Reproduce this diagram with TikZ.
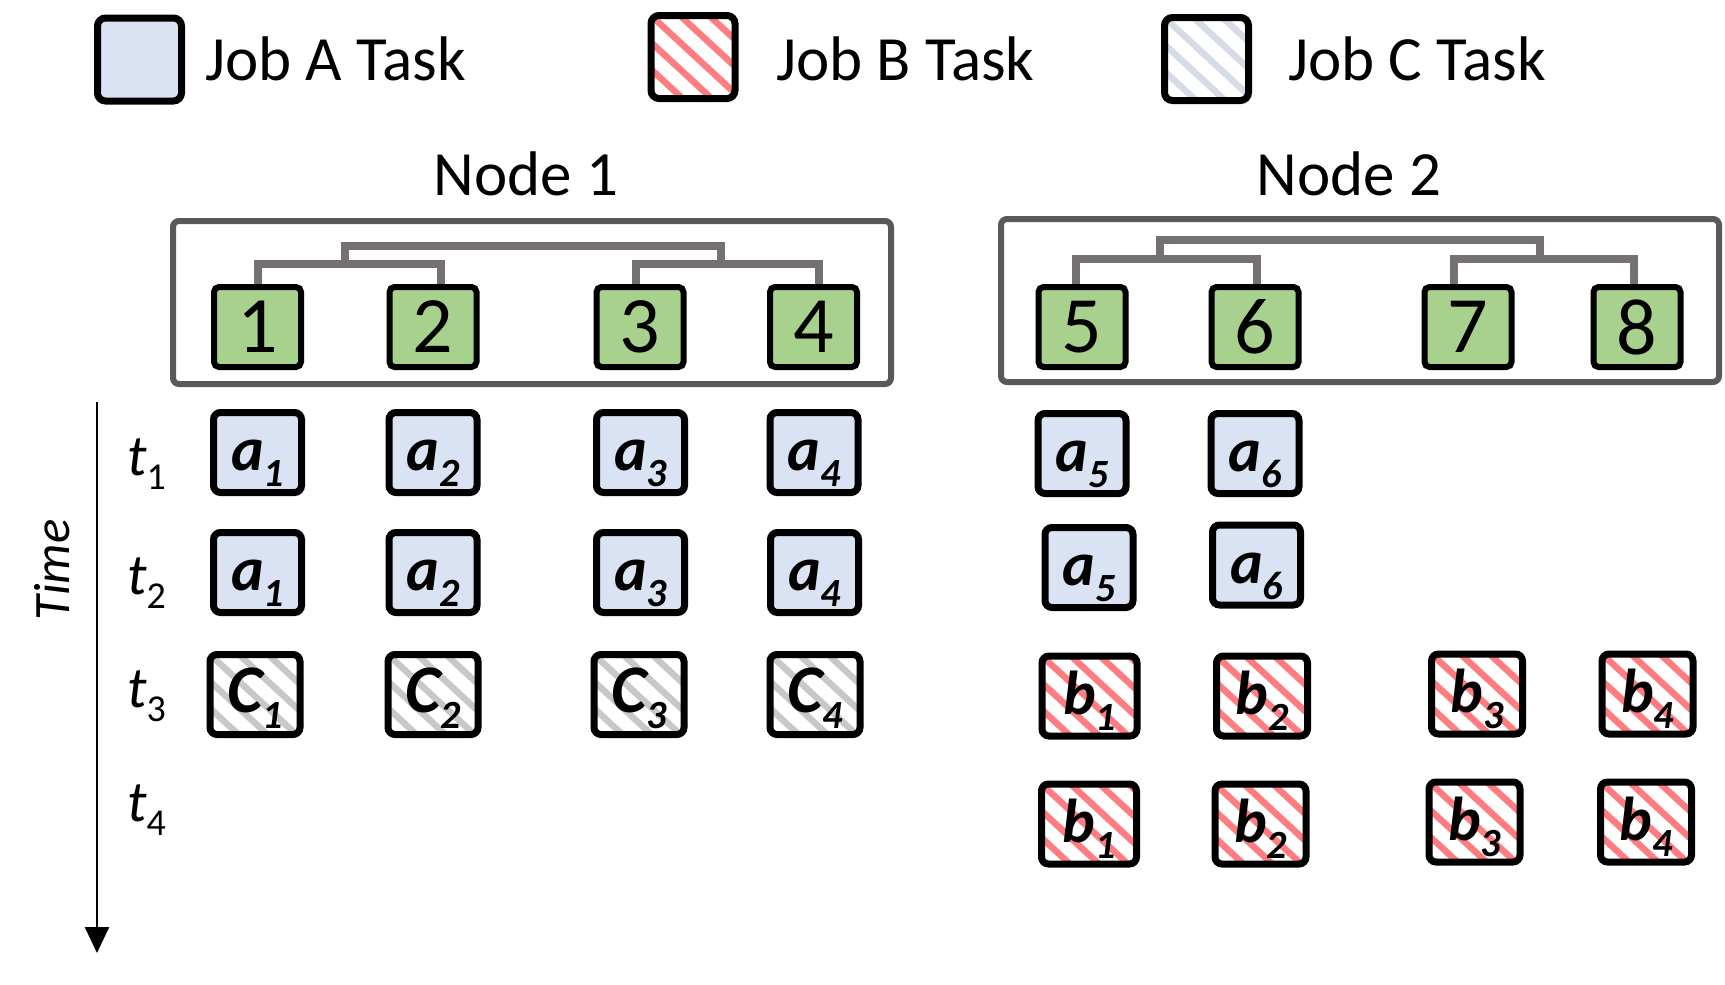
\documentclass[tikz,border=0pt]{standalone}
\usepackage{fontspec}
\setmainfont{Carlito}
\usetikzlibrary{arrows.meta}
\definecolor{gfill}{HTML}{A9D18E}
\definecolor{afill}{HTML}{DAE3F3}
\definecolor{treecol}{HTML}{767171}
\definecolor{boxcol}{HTML}{595959}
\definecolor{bstripe}{HTML}{FF7C80}
\definecolor{cstripe}{HTML}{C8C8C8}
\definecolor{lcstripe}{HTML}{D6DCE5}
\newcommand\tlab[2]{#1\raisebox{-16pt}{\fontsize{40}{40}\selectfont #2}}
\newcommand\clab[1]{{\fontsize{68}{70}\selectfont C}\raisebox{-16pt}{\fontsize{40}{40}\selectfont #1}}
\newcommand\tsub[1]{\itshape t\upshape\raisebox{-14pt}{\fontsize{38}{38}\selectfont #1}}
\tikzset{
  x=1pt, y=-1pt,
  hatch/.style={path picture={\foreach \k in {-5,...,4}{\draw[line width=6.5pt,#1] ([xshift=\k*29pt]path picture bounding box.north west) -- ++(135,125);}}},
  taskbox/.style={draw=black, line width=7pt, rounded corners=7pt, minimum width=88pt, minimum height=80pt, inner sep=0pt, text height=42pt, text depth=6pt, font=\fontsize{62}{66}\selectfont\bfseries\itshape},
  jobA/.style={taskbox, fill=afill},
  jobB/.style={taskbox, fill=white, hatch=bstripe},
  jobC/.style={taskbox, fill=white, hatch=cstripe, minimum width=90pt},
  legbox/.style={draw=black, line width=7pt, rounded corners=8pt, minimum width=84pt, minimum height=83pt, inner sep=0pt},
  legtext/.style={anchor=base west, inner sep=0pt, font=\fontsize{63}{70}\selectfont},
  gpu/.style={draw=black, line width=6pt, rounded corners=5pt, fill=gfill, minimum width=87pt, minimum height=80pt, inner sep=0pt, font=\fontsize{80}{80}\selectfont},
  nodebox/.style={draw=boxcol, line width=6pt, rounded corners=6pt, minimum width=718pt, minimum height=163pt, inner sep=0pt},
  tree/.style={draw=treecol, line width=8pt, line join=miter},
  tlabel/.style={anchor=base west, inner sep=0pt, font=\fontsize{58}{58}\selectfont},
}
\begin{document}
\begin{tikzpicture}
\useasboundingbox (0,0) rectangle (1725,985);
% legend
\node[legbox, fill=afill] (legA) at (139.5,59.5) {};
\node[legtext] (legAt) at (205,80) {Job A Task};
\node[legbox, fill=white, hatch=bstripe] (legB) at (693,57) {};
\node[legtext] (legBt) at (776,80) {Job B Task};
\node[legbox, fill=white, hatch=lcstripe] (legC) at (1206.5,59) {};
\node[legtext] (legCt) at (1288,80) {Job C Task};
% node titles
\node[font=\fontsize{63}{70}\selectfont, anchor=base] (n1t) at (526,195) {Node 1};
\node[font=\fontsize{63}{70}\selectfont, anchor=base] (n2t) at (1349,195) {Node 2};
% node boxes
\node[nodebox] (n1box) at (532,302.5) {};
\node[nodebox] (n2box) at (1360,300.5) {};
% GPUs
\node[gpu] (s1) at (257.5,327) {1};
\node[gpu] (s2) at (433,327) {2};
\node[gpu] (s3) at (640,327) {3};
\node[gpu] (s4) at (813.5,327) {4};
\node[gpu] (s5) at (1082,327) {5};
\node[gpu] (s6) at (1255,327) {6};
\node[gpu] (s7) at (1468,327) {7};
\node[gpu] (s8) at (1637,327) {8};
% trees node 1
\draw[tree] (s1.north) -- ++(0,-20) -| ([xshift=8pt]s2.north);
\draw[tree] ([xshift=-4pt]s3.north) -- ++(0,-20) -| ([xshift=5pt]s4.north);
\coordinate (j12) at (345,267);
\coordinate (j34) at (721,267);
\draw[tree] (j12) -- ++(0,-21) -| (j34);
% trees node 2
\draw[tree] ([xshift=-6pt]s5.north) -- ++(0,-25) -| ([xshift=2pt]s6.north);
\draw[tree] ([xshift=-14pt]s7.north) -- ++(0,-25) -| ([xshift=-3pt]s8.north);
\coordinate (j56) at (1160,262);
\coordinate (j78) at (1540,262);
\draw[tree] (j56) -- ++(0,-22) -| (j78);
% time axis
\coordinate (ttop) at (97,402);
\coordinate (tbot) at (97,953);
\draw[line width=2.5pt, -{Triangle[width=24pt,length=26pt]}] (ttop) -- (tbot);
\node[rotate=90, font=\fontsize{51}{51}\selectfont\itshape] (timelabel) at (52,570) {Time};
\node[tlabel] (t1) at (127,475) {\tsub{1}};
\node[tlabel] (t2) at (127,594) {\tsub{2}};
\node[tlabel] (t3) at (127,707) {\tsub{3}};
\node[tlabel] (t4) at (127,821) {\tsub{4}};
% row t1
\node[jobA] (r1a1) at (257.5,452.5) {\tlab{a}{1}};
\node[jobA] (r1a2) at (433,452.5) {\tlab{a}{2}};
\node[jobA] (r1a3) at (640.5,452.5) {\tlab{a}{3}};
\node[jobA] (r1a4) at (814,452.5) {\tlab{a}{4}};
\node[jobA] (r1a5) at (1082,453.5) {\tlab{a}{5}};
\node[jobA] (r1a6) at (1255,453.5) {\tlab{a}{6}};
% row t2
\node[jobA] (r2a1) at (257.5,572.5) {\tlab{a}{1}};
\node[jobA] (r2a2) at (433,572.5) {\tlab{a}{2}};
\node[jobA] (r2a3) at (640.5,572.5) {\tlab{a}{3}};
\node[jobA] (r2a4) at (814.5,572.5) {\tlab{a}{4}};
\node[jobA] (r2a5) at (1089,567.5) {\tlab{a}{5}};
\node[jobA] (r2a6) at (1256.5,565) {\tlab{a}{6}};
% row t3
\node[jobC] (r3c1) at (255,694.5) {\clab{1}};
\node[jobC] (r3c2) at (433,694.5) {\clab{2}};
\node[jobC] (r3c3) at (639,694.5) {\clab{3}};
\node[jobC] (r3c4) at (815,694.5) {\clab{4}};
\node[jobB, minimum width=95pt] (r3b1) at (1089.5,696) {\tlab{b}{1}};
\node[jobB, minimum width=91pt] (r3b2) at (1262,696) {\tlab{b}{2}};
\node[jobB, minimum width=91pt] (r3b3) at (1477,694) {\tlab{b}{3}};
\node[jobB, minimum width=91pt] (r3b4) at (1647.5,694) {\tlab{b}{4}};
% row t4
\node[jobB, minimum width=95pt] (r4b1) at (1089,824) {\tlab{b}{1}};
\node[jobB, minimum width=91pt] (r4b2) at (1260.5,824) {\tlab{b}{2}};
\node[jobB, minimum width=91pt] (r4b3) at (1474.5,822) {\tlab{b}{3}};
\node[jobB, minimum width=91pt] (r4b4) at (1646,822) {\tlab{b}{4}};
\end{tikzpicture}
\end{document}
